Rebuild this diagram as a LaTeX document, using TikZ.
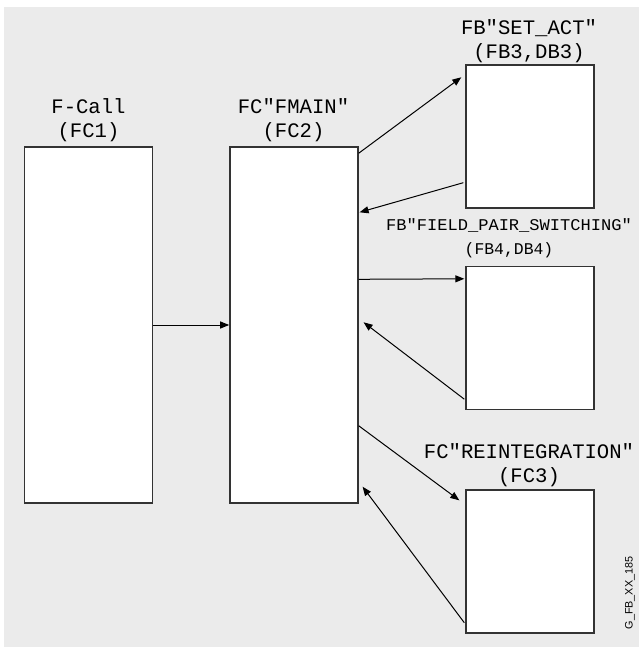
\documentclass[tikz,border=0pt]{standalone}
\usepackage{fontspec}
\setmainfont{Liberation Sans}
\setmonofont{Liberation Mono}
\usetikzlibrary{arrows.meta, positioning, calc}
\definecolor{panelgray}{HTML}{EBEBEB}
\definecolor{edgegray}{HTML}{333333}

\begin{document}
\begin{tikzpicture}[
		x=0.5pt, y=-0.5pt,
		block/.style={rectangle, draw=edgegray, line width=0.7pt, fill=white, minimum width=64pt, inner sep=0pt},
		tall/.style={block, minimum height=178pt},
		short/.style={block, minimum height=71.5pt},
		caption/.style={align=center, inner sep=0pt, font=\ttfamily\fontsize{10.3}{12}\selectfont},
		arrow/.style={-{Triangle[length=4.5pt, width=3.5pt]}, line width=0.5pt}
		]
		\useasboundingbox (0,0) rectangle (639,647);
		\fill[panelgray] (4,7) rectangle (639,647);

		% blocks
		\node[tall] (fcall) at (88.5,325) {};
		\node[tall, right=38pt of fcall] (fmain) {};
		\node[short] (setact) at (530,136.5) {};
		\node[short] (fieldsw) at (530,338) {};
		\node[short] (reinteg) at (530,561.5) {};

		% captions
		\node[caption] (fcalllbl) at (88.5,120) {F-Call\\(FC1)};
		\node[caption] (fmainlbl) at (293.5,120) {FC"FMAIN"\\(FC2)};
		\node[caption] (setactlbl) at (529,41.5) {FB"SET\_ACT"\\(FB3,DB3)};
		\node[caption, font=\ttfamily\fontsize{8.2}{12}\selectfont] (fieldswlbl) at (509,238) {\scalebox{1.04}[1]{FB"FIELD\_PAIR\_SWITCHING"}\\(FB4,DB4)};
		\node[caption] (reinteglbl) at (529,465) {FC"REINTEGRATION"\\(FC3)};
		\node[rotate=90, inner sep=0pt, font=\fontsize{5.4}{6}\selectfont] (figid) at (630,593) {G\_FB\_XX\_185};

		% calls and returns
		\draw[arrow] (fcall) -- (fmain);
		\draw[arrow] ($(fmain.north east)+(0,7)$) -- ($(setact.north west)+(-4,13)$);
		\draw[arrow] ($(setact.south west)+(-2,-26)$) -- ($(fmain.north east)+(1,66)$);
		\draw[arrow] ($(fmain.north east)+(0,133)$) -- ($(fieldsw.north west)+(-1,13)$);
		\draw[arrow] ($(fieldsw.south west)+(-1,-11)$) -- ($(fmain.north east)+(5,176)$);
		\draw[arrow] ($(fmain.south east)+(0,-78)$) -- ($(reinteg.north west)+(-6,11)$);
		\draw[arrow] ($(reinteg.south west)+(-1,-11)$) -- ($(fmain.south east)+(4,-17)$);
	\end{tikzpicture}
\end{document}
